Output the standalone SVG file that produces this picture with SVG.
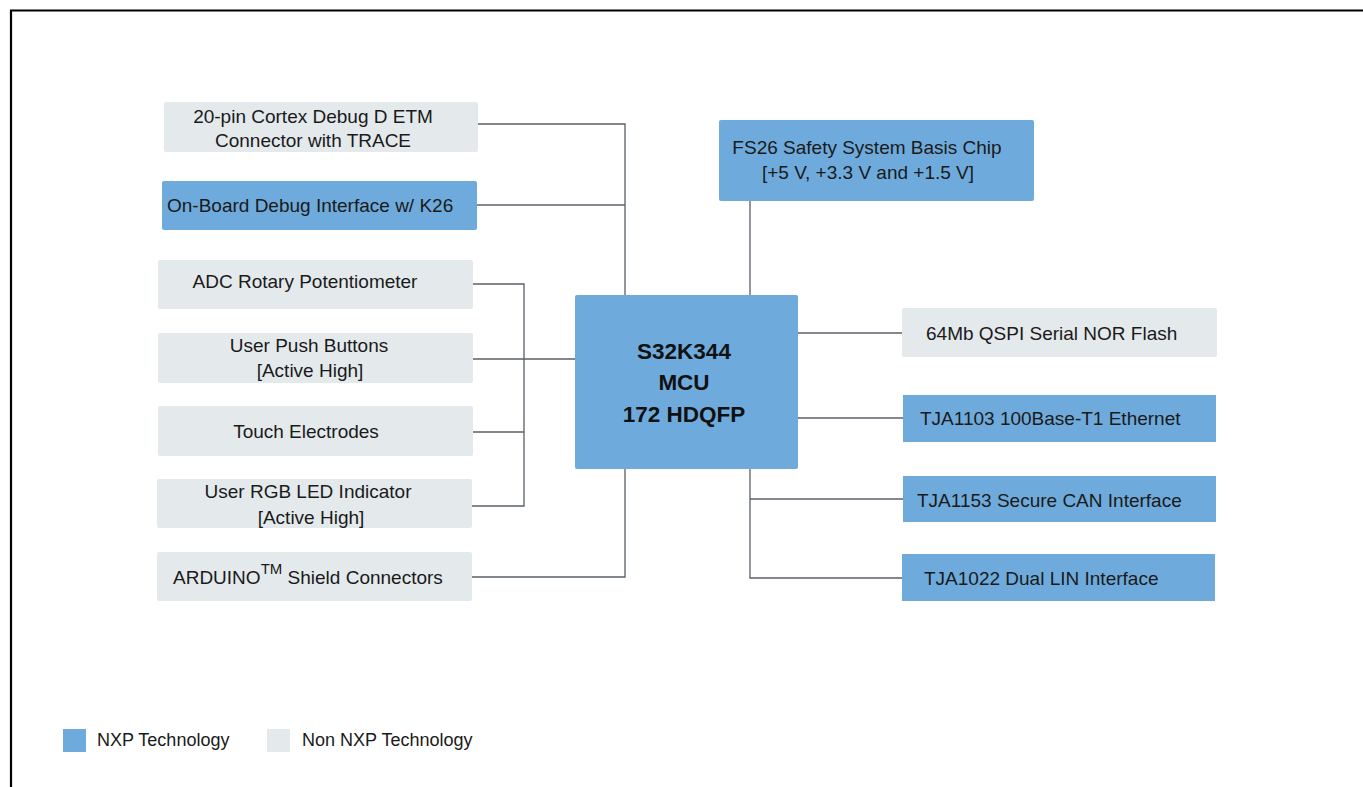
<svg xmlns="http://www.w3.org/2000/svg" width="1363" height="787" viewBox="0 0 1363 787">
<style>
.nxp{fill:#6eabdc}
.non{fill:#e4e9ec}
text{font-family:"Liberation Sans",Arial,sans-serif;font-size:19px;fill:#1a1a1a}
.c{text-anchor:middle}
.b{font-weight:bold;font-size:22.5px;fill:#111}
.lg{font-size:18px}
.con{stroke:#596069;stroke-width:1.3;fill:none}
</style>
<rect width="1363" height="787" fill="#fff"/>
<path d="M11 787 V10.5 H1363" stroke="#000" stroke-width="2.2" fill="none"/>
<g id="connectors" class="con">
<path d="M478 124 H625 V295"/>
<path d="M477 205 H625"/>
<path d="M473 284 H524 V506 H472"/>
<path d="M473 359 H575"/>
<path d="M473 432 H524"/>
<path d="M472 577 H625 V469"/>
<path d="M750 201 V295"/>
<path d="M798 333 H902"/>
<path d="M798 418 H903"/>
<path d="M750 469 V578 H902"/>
<path d="M750 499 H903"/>
</g>
<g id="n-etm"><rect class="non" x="164" y="102" width="314" height="50" rx="2"/><text class="c" x="313" y="122.5">20-pin Cortex Debug D ETM</text><text class="c" x="313" y="147">Connector with TRACE</text></g>
<g id="n-k26"><rect class="nxp" x="162" y="181" width="315" height="49" rx="2"/><text x="167" y="211.5">On-Board Debug Interface w/ K26</text></g>
<g id="n-adc"><rect class="non" x="158" y="260" width="315" height="49" rx="2"/><text class="c" x="305" y="288">ADC Rotary Potentiometer</text></g>
<g id="n-push"><rect class="non" x="158" y="333" width="315" height="50" rx="2"/><text class="c" x="309" y="352">User Push Buttons</text><text class="c" x="310" y="377">[Active High]</text></g>
<g id="n-touch"><rect class="non" x="158" y="406" width="315" height="50" rx="2"/><text class="c" x="306" y="437.5">Touch Electrodes</text></g>
<g id="n-rgb"><rect class="non" x="157" y="479" width="315" height="49" rx="2"/><text class="c" x="308" y="498">User RGB LED Indicator</text><text class="c" x="311" y="524">[Active High]</text></g>
<g id="n-arduino"><rect class="non" x="157" y="552" width="315" height="49" rx="2"/><text x="173" y="584">ARDUINO<tspan font-size="15" dy="-10">TM</tspan><tspan dy="10"> Shield Connectors</tspan></text></g>
<g id="n-mcu"><rect class="nxp" x="575" y="295" width="223" height="174" rx="2"/><text class="c b" x="684" y="359">S32K344</text><text class="c b" x="684" y="390">MCU</text><text class="c b" x="684" y="422">172 HDQFP</text></g>
<g id="n-fs26"><rect class="nxp" x="719" y="120" width="315" height="81" rx="2"/><text class="c" x="867" y="154">FS26 Safety System Basis Chip</text><text class="c" x="868" y="179">[+5 V, +3.3 V and +1.5 V]</text></g>
<g id="n-flash"><rect class="non" x="902" y="308" width="315" height="49" rx="2"/><text x="926" y="340">64Mb QSPI Serial NOR Flash</text></g>
<g id="n-eth"><rect class="nxp" x="903" y="395" width="313" height="47"/><text x="920" y="425">TJA1103 100Base-T1 Ethernet</text></g>
<g id="n-can"><rect class="nxp" x="903" y="476" width="313" height="46"/><text x="917" y="506.5">TJA1153 Secure CAN Interface</text></g>
<g id="n-lin"><rect class="nxp" x="902" y="554" width="313" height="47"/><text x="924" y="585">TJA1022 Dual LIN Interface</text></g>
<g id="legend">
<rect class="nxp" x="63" y="729" width="23" height="23"/><text class="lg" x="97" y="746">NXP Technology</text>
<rect class="non" x="267" y="729" width="23" height="23"/><text class="lg" x="302" y="746">Non NXP Technology</text>
</g>
</svg>
